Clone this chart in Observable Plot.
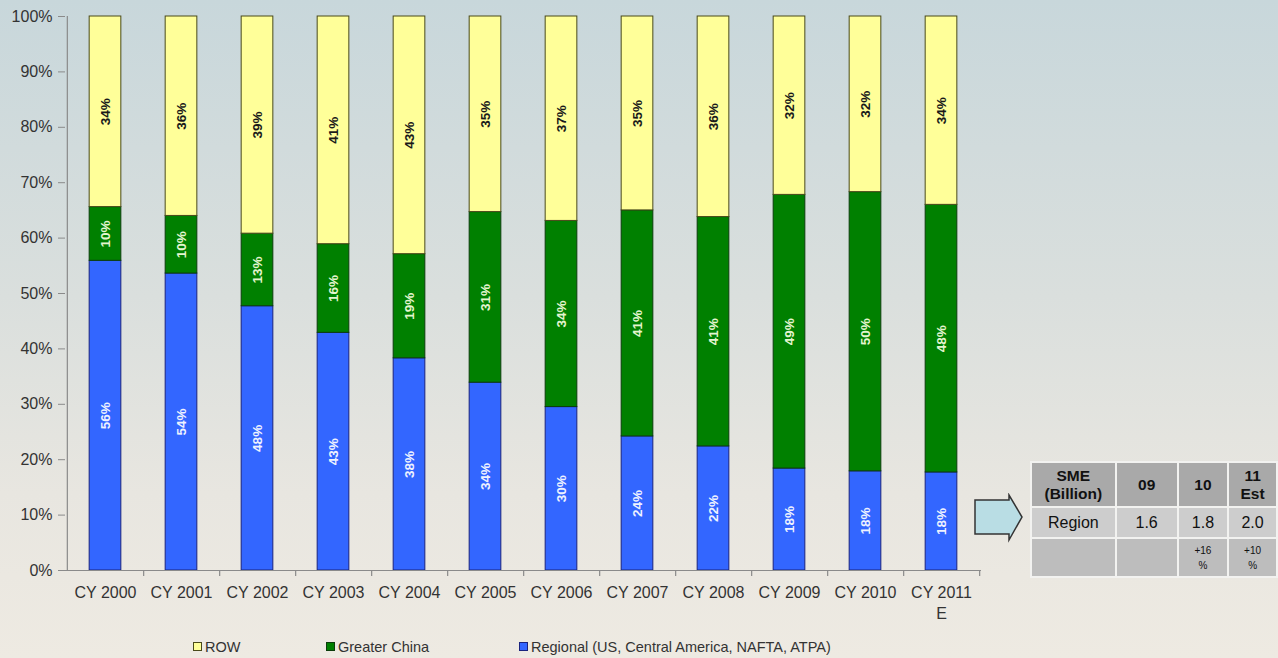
<!DOCTYPE html>
<html><head><meta charset="utf-8">
<script src="https://cdn.jsdelivr.net/npm/d3@7"></script>
<script src="https://cdn.jsdelivr.net/npm/@observablehq/plot@0.6"></script>
<style>
html,body{margin:0;padding:0;}
body{width:1278px;height:658px;overflow:hidden;position:relative;
 background:linear-gradient(to bottom,#c8d7db 0%,#dadfdd 45%,#e8e6e0 75%,#eeeae2 100%);
 font-family:"Liberation Sans",Arial,sans-serif;}
#chart{position:absolute;left:0;top:0;}
#legend{position:absolute;left:0;top:638px;width:1278px;height:18px;font-size:14.5px;color:#333;}
#legend .item{position:absolute;top:0;white-space:nowrap;line-height:18px;}
#legend .sw{display:inline-block;width:7px;height:7px;border:1px solid #333;margin-right:3px;vertical-align:1px;}
#arrow{position:absolute;left:973px;top:493px;}
#tbl{position:absolute;left:1030px;top:461px;border-collapse:collapse;font-family:"Liberation Sans",Arial,sans-serif;color:#111;}
#tbl td{border:2px solid #f2f2f0;text-align:center;padding:0;}
#tbl tr.h td{background:#a9a9a9;font-weight:bold;font-size:15.5px;line-height:18px;height:43px;}
#tbl tr.r td{background:#cdcdcd;font-size:16px;height:29px;}
#tbl tr.g td{background:#bdbdbd;font-size:10px;line-height:15px;height:37px;}
</style></head>
<body>
<div id="chart"></div>
<svg id="arrow" width="52" height="52" viewBox="0 0 52 52">
 <polygon points="2,7 36,7 36,2 49,24 36,47 36,41 2,41" fill="#b9dde4" stroke="#333" stroke-width="1.5"/>
</svg>
<table id="tbl"></table>
<div id="legend"></div>
<script>
const years = ["2000","2001","2002","2003","2004","2005","2006","2007","2008","2009","2010","2011"];
const xLabels = ["CY 2000","CY 2001","CY 2002","CY 2003","CY 2004","CY 2005","CY 2006","CY 2007","CY 2008","CY 2009","CY 2010","CY 2011\nE"];
const seriesNames = ["Regional (US, Central America, NAFTA, ATPA)","Greater China","ROW"];
const regional = [55.9,53.6,47.7,42.9,38.3,33.9,29.5,24.2,22.4,18.4,17.9,17.7];
const china    = [9.7,10.4,13.1,16.0,18.8,30.8,33.6,40.8,41.4,49.4,50.4,48.3];
const rowShare = [34.4,36.0,39.2,41.1,42.9,35.3,36.9,35.0,36.2,32.2,31.7,34.0];
const yTicks = [0,0.1,0.2,0.3,0.4,0.5,0.6,0.7,0.8,0.9,1];
const legendOrder = ["ROW","Greater China","Regional (US, Central America, NAFTA, ATPA)"];
const tableHeader = ["SME\n(Billion)","09","10","11\nEst"];
const tableRegion = ["Region","1.6","1.8","2.0"];
const tableGrowth = ["","","+16\n%","+10\n%"];

const fills = {"Regional (US, Central America, NAFTA, ATPA)":"#3366ff","Greater China":"#008000","ROW":"#ffff99"};
const labelFills = {"Regional (US, Central America, NAFTA, ATPA)":"#eef2ff","Greater China":"#e4f5cf","ROW":"#1a1a1a"};
const strokes = {"Regional (US, Central America, NAFTA, ATPA)":"#1a237e","Greater China":"#0b3d0b","ROW":"#4a4a1a"};

const vals = [regional, china, rowShare];
const data = years.flatMap((y,i)=>seriesNames.map((s,k)=>({year:y, series:s, value:vals[k][i]/100})));

const W=1278,H=620,mL=65,mR=297,mT=16,mB=50;
const step=(W-mL-mR)/years.length;
const inset=(step-32)/2;

const plot = Plot.plot({
  width:W,height:H,marginLeft:mL,marginRight:mR,marginTop:mT,marginBottom:mB,
  style:{background:"transparent",fontFamily:"Liberation Sans, Arial, sans-serif",color:"#333",overflow:"visible"},
  x:{type:"band",domain:years,padding:0,label:null},
  y:{domain:[0,1],label:null},
  marks:[
    Plot.barY(data, Plot.stackY({x:"year",y:"value",z:"series",fill:d=>fills[d.series],stroke:d=>strokes[d.series],strokeWidth:1,insetLeft:inset,insetRight:inset})),
    Plot.text(data, Plot.stackY({x:"year",y:"value",z:"series",text:d=>Math.round(d.value*100)+"%",rotate:-90,fill:d=>labelFills[d.series],fontWeight:"bold",fontSize:13.5})),
    Plot.ruleY([0],{stroke:"#8a8a8a",strokeWidth:1.2}),
    Plot.ruleX([years[0]],{dx:-step/2,y1:0,y2:1,stroke:"#8a8a8a",strokeWidth:1.2}),
    Plot.ruleX(years,{dx:step/2,y1:0,y2:-0.011,stroke:"#8a8a8a",strokeWidth:1.2}),
    Plot.axisY({ticks:yTicks,tickFormat:d3.format(".0%"),tickSize:7,tickPadding:6,fontSize:16,stroke:"#8a8a8a",fill:"#333"}),
    Plot.axisX({tickSize:0,tickPadding:12,fontSize:16,lineHeight:1.35,tickFormat:d=>xLabels[years.indexOf(d)],fill:"#333"})
  ]
});
document.getElementById("chart").appendChild(plot);

// legend
const legendX = [193, 326, 519];
const leg = document.getElementById("legend");
legendOrder.forEach((s,i)=>{
  const it=document.createElement("div");
  it.className="item"; it.style.left=legendX[i]+"px";
  const sw=document.createElement("span"); sw.className="sw"; sw.style.background=fills[s]; sw.style.borderColor=strokes[s];
  it.appendChild(sw); it.appendChild(document.createTextNode(s));
  leg.appendChild(it);
});

// table
const colW=[84,62,50,48];
const tbl=document.getElementById("tbl");
[[tableHeader,"h"],[tableRegion,"r"],[tableGrowth,"g"]].forEach(([cells,cls])=>{
  const tr=document.createElement("tr"); tr.className=cls;
  cells.forEach((c,j)=>{
    const td=document.createElement("td"); td.style.width=colW[j]+"px";
    c.split("\n").forEach((line,k)=>{ if(k) td.appendChild(document.createElement("br")); td.appendChild(document.createTextNode(line)); });
    tr.appendChild(td);
  });
  tbl.appendChild(tr);
});
</script>
</body></html>
